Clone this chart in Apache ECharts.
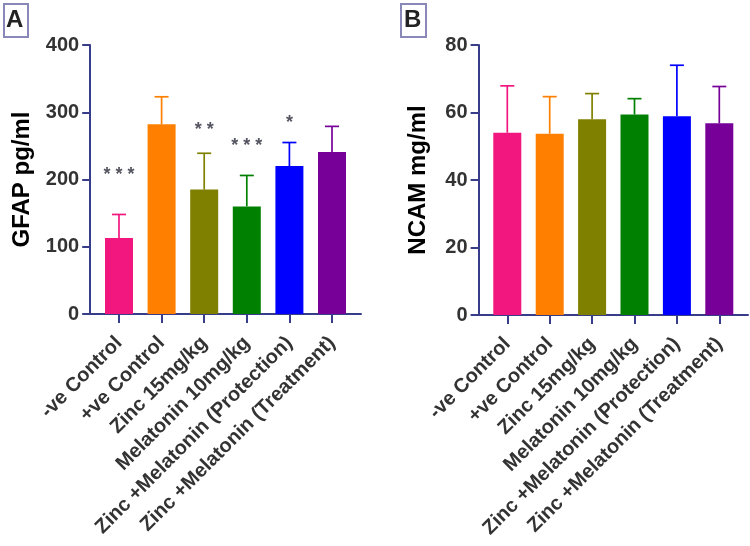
<!DOCTYPE html>
<html>
<head>
<meta charset="utf-8">
<script src="https://cdn.jsdelivr.net/npm/echarts@6/dist/echarts.min.js"></script>
<style>
html,body{margin:0;padding:0;background:#fff;}
#chart{width:750px;height:546px;}
</style>
</head>
<body>
<div id="chart"></div>
<script>
// ---- data ----
const categories = ['-ve Control', '+ve Control', 'Zinc 15mg/kg', 'Melatonin 10mg/kg', 'Zinc +Melatonin (Protection)', 'Zinc +Melatonin (Treatment)'];
const gfapMean   = [113, 282, 185, 160, 220, 241];
const gfapErrTop = [148, 323, 239, 206, 255, 279];
const gfapSig    = ['* * *', '', '* *', '* * *', '*', ''];
const gfapSigAt  = [207, null, 273, 250, 284, null];
const ncamMean   = [54.0, 53.7, 58.0, 59.4, 58.9, 56.8];
const ncamErrTop = [67.9, 64.7, 65.6, 64.1, 74.0, 67.7];
const gfapTicks  = [0, 100, 200, 300, 400];
const ncamTicks  = [0, 20, 40, 60, 80];
const barColors  = ['#F2177F', '#FF8000', '#808000', '#008000', '#0000FF', '#770099'];
const panelLetters = ['A', 'B'];
const yNames = ['GFAP pg/ml', 'NCAM mg/ml'];

// ---- style ----
const FONT = "'Liberation Sans', Arial, sans-serif";
const AXIS = '#383d8a';
const TXT = '#333333';

const panels = [
  {dataLeft: 97.7, dataWidth: 255.6, frameLeft: 90, frameWidth: 271, top: 45, height: 269, offset: 7.5, gap: 56},
  {dataLeft: 486.1, dataWidth: 254.4, frameLeft: 478.5, frameWidth: 269.5, top: 45, height: 270, offset: 7.5, gap: 48}
];

const grids = [], xAxes = [], yAxes = [], series = [];

function errRender(colors) {
  return function (params, api) {
    const i = api.value(0);
    const p0 = api.coord([i, api.value(1)]);
    const p1 = api.coord([i, api.value(2)]);
    const hw = 7;
    const st = {stroke: colors[params.dataIndex], lineWidth: 1.7};
    return {type: 'group', children: [
      {type: 'line', shape: {x1: p0[0], y1: p0[1], x2: p1[0], y2: p1[1]}, style: st},
      {type: 'line', shape: {x1: p1[0] - hw, y1: p1[1], x2: p1[0] + hw, y2: p1[1]}, style: st}
    ]};
  };
}

const panelData = [
  {mean: gfapMean, err: gfapErrTop, ticks: gfapTicks},
  {mean: ncamMean, err: ncamErrTop, ticks: ncamTicks}
];

panels.forEach((p, k) => {
  const d = panelData[k];
  const gData = grids.length;
  grids.push({left: p.dataLeft, width: p.dataWidth, top: p.top, height: p.height});
  const gFrame = grids.length;
  grids.push({left: p.frameLeft, width: p.frameWidth, top: p.top, height: p.height});

  const xi = xAxes.length;
  xAxes.push({
    type: 'category', gridIndex: gData, data: categories,
    axisLine: {show: true, lineStyle: {color: AXIS, width: 2}},
    axisTick: {show: true, alignWithLabel: true, length: 9, lineStyle: {color: AXIS, width: 2}},
    axisLabel: {rotate: 45, margin: 26, color: TXT, fontFamily: FONT, fontWeight: 'bold', fontSize: 20, interval: 0}
  });
  xAxes.push({
    type: 'value', gridIndex: gFrame, min: 0, max: 1,
    axisLine: {show: true, lineStyle: {color: AXIS, width: 2}},
    axisTick: {show: false}, axisLabel: {show: false}, splitLine: {show: false}
  });
  const yi = yAxes.length;
  const t = d.ticks;
  yAxes.push({
    type: 'value', gridIndex: gData, min: t[0], max: t[t.length - 1], interval: t[1] - t[0],
    offset: p.offset,
    name: yNames[k], nameLocation: 'middle', nameGap: p.gap,
    nameTextStyle: {color: '#000', fontFamily: FONT, fontWeight: 'bold', fontSize: 24},
    axisLine: {show: true, lineStyle: {color: AXIS, width: 2}},
    axisTick: {show: true, length: 8, lineStyle: {color: AXIS, width: 2}},
    axisLabel: {margin: 11, color: TXT, fontFamily: FONT, fontWeight: 'bold', fontSize: 20},
    splitLine: {show: false}
  });
  yAxes.push({type: 'value', gridIndex: gFrame, show: false, min: 0, max: 1});

  series.push({
    type: 'bar', xAxisIndex: xi, yAxisIndex: yi, barWidth: 28,
    data: d.mean.map((v, i) => ({value: v, itemStyle: {color: barColors[i]}}))
  });
  series.push({
    type: 'custom', xAxisIndex: xi, yAxisIndex: yi, z: 3,
    renderItem: errRender(barColors),
    data: d.mean.map((v, i) => [i, v, d.err[i]])
  });
  if (k === 0) {
    series.push({
      type: 'scatter', xAxisIndex: xi, yAxisIndex: yi, symbolSize: 0.1,
      data: gfapSigAt.map((v, i) => [i, v]).filter(a => a[1] !== null),
      label: {show: true, position: 'inside', formatter: (pp) => gfapSig[pp.data[0]],
        color: '#2a2a3a', fontFamily: FONT, fontSize: 18, fontWeight: 'bold'}
    });
  }
});

const graphics = [
  {type: 'rect', left: 3, top: 3, shape: {width: 24, height: 33}, style: {fill: '#fff', stroke: '#8a88b8', lineWidth: 2}},
  {type: 'text', left: 6, top: 8, style: {text: panelLetters[0], font: "bold 24px 'Liberation Sans', Arial", fill: '#222'}},
  {type: 'rect', left: 400, top: 3, shape: {width: 25, height: 33}, style: {fill: '#fff', stroke: '#8a88b8', lineWidth: 2}},
  {type: 'text', left: 404, top: 8, style: {text: panelLetters[1], font: "bold 24px 'Liberation Sans', Arial", fill: '#222'}}
];

const chart = echarts.init(document.getElementById('chart'), null, {renderer: 'canvas'});
chart.setOption({
  animation: false,
  grid: grids, xAxis: xAxes, yAxis: yAxes, series: series, graphic: graphics
});
</script>
</body>
</html>
